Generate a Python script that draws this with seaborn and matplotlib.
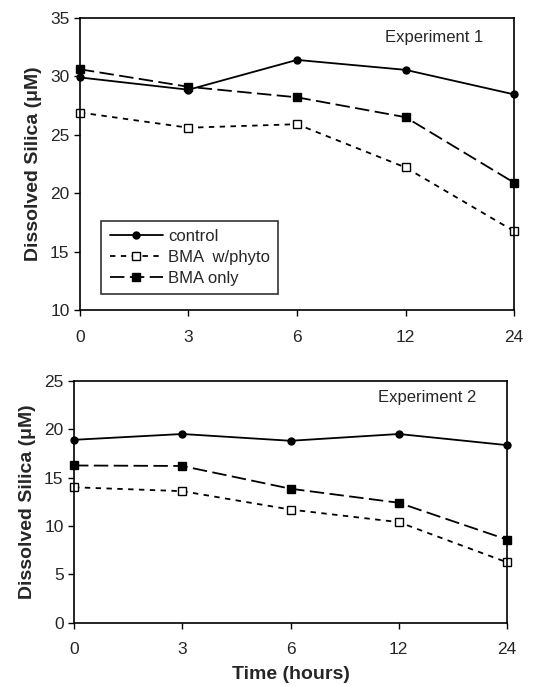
import matplotlib
matplotlib.use("Agg")
import matplotlib.pyplot as plt
import seaborn as sns
import pandas as pd

sns.set_theme(style="ticks")
plt.rcParams['font.family'] = ['Liberation Sans', 'DejaVu Sans']

times = ["0", "3", "6", "12", "24"]
series = ["control", "BMA  w/phyto", "BMA only"]

exp1_control = [29.9, 28.85, 31.4, 30.55, 28.45]
exp1_phyto = [26.9, 25.6, 25.9, 22.2, 16.75]
exp1_bma = [30.6, 29.1, 28.2, 26.5, 20.9]

exp2_control = [18.9, 19.5, 18.8, 19.5, 18.35]
exp2_phyto = [14.0, 13.6, 11.7, 10.4, 6.25]
exp2_bma = [16.25, 16.2, 13.85, 12.4, 8.6]

styles = {
    "control": dict(marker="o", linestyle="-", markerfacecolor="black", markersize=5),
    "BMA  w/phyto": dict(marker="s", linestyle=(0, (3, 3)), markerfacecolor="white", markersize=6),
    "BMA only": dict(marker="s", linestyle=(0, (8, 3)), markerfacecolor="black", markersize=6),
}

def make_df(vals):
    rows = []
    for name, v in zip(series, vals):
        for i, (t, y) in enumerate(zip(times, v)):
            rows.append(dict(series=name, pos=i, time=t, value=y))
    return pd.DataFrame(rows)

fig = plt.figure(figsize=(5.4, 6.86), dpi=100)
ax1 = fig.add_axes([0.148, 0.548, 0.804, 0.426])
ax2 = fig.add_axes([0.137, 0.092, 0.802, 0.353])

def draw(ax, df, ylim, yticks, title, legend):
    for name in series:
        sub = df[df.series == name]
        st = styles[name]
        sns.lineplot(data=sub, x="pos", y="value", ax=ax, color="black", linewidth=1.3,
                     marker=st["marker"], linestyle=st["linestyle"],
                     markerfacecolor=st["markerfacecolor"], markeredgecolor="black",
                     markersize=st["markersize"], markeredgewidth=1, label=name,
                     clip_on=False, legend=legend)
    ax.set_xlim(0, 4)
    ax.set_ylim(*ylim)
    ax.set_yticks(yticks)
    ax.set_xticks(range(len(times)))
    ax.set_xticklabels(times, fontsize=12.5)
    ax.tick_params(axis="y", labelsize=12.5, length=4, width=1, color="black")
    ax.tick_params(axis="x", length=4, width=1, color="black", pad=10)
    ax.set_ylabel("Dissolved Silica (\u03bcM)", fontsize=14, fontweight="bold", labelpad=6)
    ax.set_xlabel("")
    for s in ax.spines.values():
        s.set_color("black")
        s.set_linewidth(1.2)
    ax.text(0.93, 0.96, title, transform=ax.transAxes, ha="right", va="top", fontsize=12)

draw(ax1, make_df([exp1_control, exp1_phyto, exp1_bma]), (10, 35), [10, 15, 20, 25, 30, 35], "Experiment 1", True)
draw(ax2, make_df([exp2_control, exp2_phyto, exp2_bma]), (0, 25), [0, 5, 10, 15, 20, 25], "Experiment 2", False)
ax2.set_xlabel("Time (hours)", fontsize=14, fontweight="bold", labelpad=6)

leg = ax1.legend(loc="lower left", bbox_to_anchor=(0.03, 0.027), fontsize=12, frameon=True,
                 fancybox=False, edgecolor="black", handlelength=3.2, borderpad=0.5,
                 labelspacing=0.35, handletextpad=0.3)
leg.get_frame().set_linewidth(1.2)

fig.savefig("out.png", dpi=100)
